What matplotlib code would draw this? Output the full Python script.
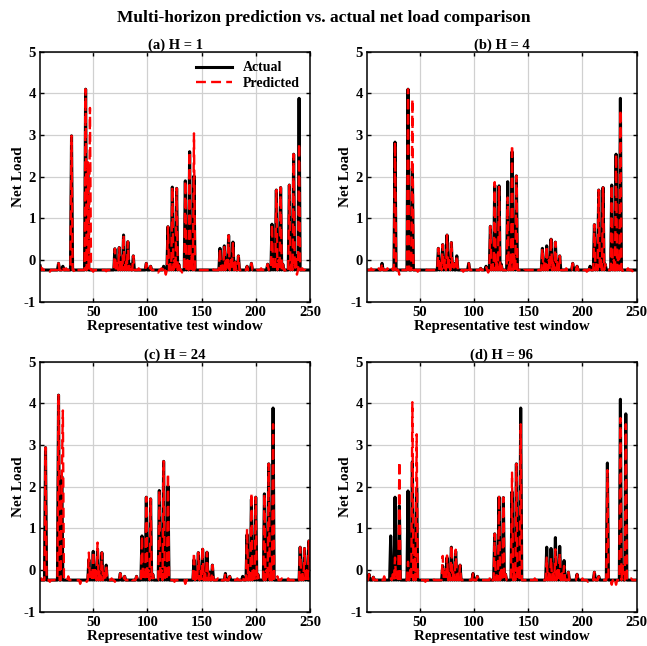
import numpy as np
import matplotlib.pyplot as plt

plt.rcParams['font.family'] = ['Liberation Serif', 'DejaVu Serif']
plt.rcParams['font.weight'] = 'bold'
plt.rcParams['axes.unicode_minus'] = False

# x axis: representative test window, 250 steps
t = np.arange(1, 251)
base = -0.24

titles = ['(a) H = 1', '(b) H = 4', '(c) H = 24', '(d) H = 96']

# ---- (a) H = 1 : actual (points off the baseline)
a_act_x = [1, 18, 22, 30, 43, 45,
           70, 72, 74, 76, 78, 80, 82, 84, 87, 99, 103,
           115, 119, 121, 123, 125, 127, 129, 135, 137, 139, 141, 143,
           167, 169, 171, 173, 175, 177, 179, 181, 184, 192, 196,
           211, 215, 217, 219, 221, 223, 225, 231, 233, 235, 237, 240]
a_act_y = [-0.14, -0.08, -0.15, 2.98, 4.1, 2.3,
           0.27, -0.08, 0.3, -0.05, 0.6, 0.0, 0.44, -0.1, 0.1, -0.08, -0.15,
           -0.15, 0.8, -0.05, 1.75, 0.0, 1.72, -0.1, 1.9, 0.0, 2.6, 0.1, 2.02,
           0.28, -0.05, 0.34, 0.0, 0.59, 0.0, 0.43, -0.05, 0.1, -0.15, -0.08,
           -0.1, 0.86, -0.05, 1.68, 0.0, 1.74, -0.1, 1.8, 0.0, 2.54, 0.1, 3.88]
# predicted: where it differs from actual
a_pred_x = [3, 10, 25, 33, 45, 47, 50, 55, 62, 92, 110, 113, 117, 132, 143,
            146, 160, 188, 200, 205, 228, 238, 240, 243, 247]
a_pred_y = [-0.2, -0.28, -0.2, -0.3, 2.35, 3.65, -0.28, -0.22, -0.27, -0.2, -0.3, -0.2, -0.35, -0.3, 3.04,
            -0.28, -0.2, -0.2, -0.28, -0.2, -0.3, -0.35, 2.8, -0.2, -0.27]

# ---- (b) H = 4
b_act_x = [15, 27, 39, 43,
           67, 69, 71, 73, 75, 77, 79, 81, 84, 95, 106, 111,
           115, 117, 119, 121, 123, 125, 131, 133, 135, 137, 139,
           163, 165, 167, 169, 171, 173, 175, 177, 179, 191, 195,
           207, 211, 213, 215, 217, 219, 221, 227, 229, 231, 233, 235]
b_act_y = [-0.08, 2.83, 4.1, 2.2,
           0.28, -0.08, 0.37, 0.0, 0.6, 0.0, 0.42, -0.08, 0.1, -0.08, -0.2, -0.15,
           0.81, -0.05, 1.8, 0.0, 1.78, -0.1, 1.88, 0.0, 2.6, 0.1, 2.02,
           0.28, -0.05, 0.34, 0.0, 0.5, 0.0, 0.43, -0.05, 0.1, -0.08, -0.15,
           -0.15, 0.85, -0.05, 1.68, 0.0, 1.74, -0.1, 1.8, 0.0, 2.54, 0.1, 3.88]
b_pred_x = [5, 9, 12, 20, 24, 31, 43, 48, 55, 87, 90, 100, 113, 119, 131, 135,
            145, 158, 171, 185, 188, 200, 204, 230, 235, 238, 242, 246]
b_pred_y = [-0.2, -0.28, -0.2, -0.2, -0.18, -0.35, 3.86, -0.28, -0.22, -0.2, -0.28, -0.2, -0.3, 1.87, 1.5, 2.76,
            -0.28, -0.2, 0.55, -0.2, -0.28, -0.2, -0.28, -0.3, 3.6, -0.3, -0.2, -0.27]

# ---- (c) H = 24
c_act_x = [6, 18, 21,
           46, 48, 50, 52, 54, 56, 58, 60, 62, 75, 79,
           90, 95, 97, 99, 101, 103, 105, 111, 113, 115, 117, 119,
           143, 145, 147, 149, 151, 153, 155, 157, 160, 172, 176,
           188, 192, 194, 196, 198, 200, 202, 208, 210, 212, 214, 216,
           241, 243, 245, 247, 249]
c_act_y = [2.94, 4.2, 2.25,
           0.25, -0.05, 0.45, 0.0, 0.5, 0.0, 0.42, -0.08, 0.12, -0.08, -0.15,
           -0.15, 0.82, -0.05, 1.75, 0.0, 1.71, -0.1, 1.91, 0.0, 2.61, 0.1, 2.02,
           0.25, -0.05, 0.42, 0.0, 0.5, 0.0, 0.43, -0.05, 0.12, -0.08, -0.15,
           -0.15, 0.85, -0.05, 1.7, 0.0, 1.75, -0.1, 1.83, 0.0, 2.55, 0.1, 3.89,
           0.55, -0.05, 0.52, 0.0, 0.7]
c_pred_x = [2, 10, 22, 27, 38, 44, 46, 54, 67, 70, 85, 119, 125, 135, 143, 151,
            165, 168, 183, 192, 196, 216, 220, 224, 230, 236]
c_pred_y = [-0.2, -0.28, 3.83, -0.15, -0.33, -0.28, 0.42, 0.66, -0.2, -0.28, -0.2, 2.32, -0.28, -0.33, 0.42, 0.57,
            -0.2, -0.28, -0.2, 0.99, 1.85, 3.5, -0.15, -0.2, -0.2, -0.28]

# ---- (d) H = 96
d_act_x = [3, 7, 23, 25, 27, 29, 31, 39, 41, 43, 45, 47,
           71, 73, 75, 77, 79, 81, 83, 85, 87, 99, 103,
           119, 121, 123, 125, 127, 129, 135, 137, 139, 141, 143,
           167, 169, 171, 173, 175, 177, 179, 181, 183, 187, 195, 211, 215,
           223, 235, 237, 240]
d_act_y = [-0.1, -0.17, 0.82, -0.1, 1.75, -0.05, 1.54, 1.9, 0.0, 2.6, 0.1, 1.97,
           0.1, -0.05, 0.3, 0.0, 0.55, 0.0, 0.45, -0.05, 0.12, -0.08, -0.15,
           0.87, -0.05, 1.75, 0.0, 1.74, -0.1, 1.88, 0.0, 2.55, 0.1, 3.89,
           0.55, -0.05, 0.52, 0.0, 0.78, 0.0, 0.57, -0.05, 0.23, -0.05, -0.1, -0.05, -0.15,
           2.57, 4.1, 0.1, 3.75]
d_pred_x = [13, 17, 23, 27, 31, 39, 43, 45, 47, 55, 62, 71, 75, 79, 83, 115, 123, 135, 143,
            150, 156, 167, 171, 175, 179, 183, 200, 205, 223, 227, 229, 231, 235, 240, 245]
d_pred_y = [-0.2, -0.15, -0.2, 0.3, 2.6, 0.2, 4.03, 0.5, 3.26, -0.28, -0.2, 0.34, 0.35, 0.6, 0.49, -0.15, 1.8, 2.34, 3.5,
            -0.28, -0.2, 0.3, 0.3, 0.5, 0.4, 0.1, -0.2, -0.28, 2.4, -0.35, -0.3, -0.35, 3.65, 3.5, -0.2]

act_pts = [(a_act_x, a_act_y), (b_act_x, b_act_y), (c_act_x, c_act_y), (d_act_x, d_act_y)]
pred_pts = [(a_pred_x, a_pred_y), (b_pred_x, b_pred_y), (c_pred_x, c_pred_y), (d_pred_x, d_pred_y)]


def build(xs, ys, s=None):
    if s is None:
        s = np.full(len(t), base)
    else:
        s = s.copy()
    for x, y in zip(xs, ys):
        s[x - 1] = y
    return s


fig = plt.figure(figsize=(6.47, 6.46), dpi=100)
fig.suptitle('Multi-horizon prediction vs. actual net load comparison',
             fontsize=12.5, fontweight='bold', y=0.985)

lefts = [0.062, 0.567, 0.062, 0.567]
bottoms = [0.533, 0.533, 0.053, 0.053]
w, h = 0.417, 0.387

for k in range(4):
    ax = fig.add_axes([lefts[k], bottoms[k], w, h])
    actual = build(*act_pts[k])
    pred = build(*pred_pts[k], s=actual)
    ax.plot(t, actual, color='black', lw=2.2, label='Actual')
    ax.plot(t, pred, color='red', lw=1.7, ls='--', dashes=(4.2, 2.2), label='Predicted')
    ax.set_xlim(1, 250)
    ax.set_ylim(-1, 5)
    ax.set_xticks([50, 100, 150, 200, 250])
    ax.set_yticks([-1, 0, 1, 2, 3, 4, 5])
    ax.grid(True, color='#d0d0d0', lw=0.9)
    ax.set_axisbelow(True)
    ax.tick_params(direction='in', top=True, right=True, labelsize=10.5, length=3, width=1, pad=3)
    for lab in ax.get_xticklabels() + ax.get_yticklabels():
        lab.set_fontweight('bold')
    for sp in ax.spines.values():
        sp.set_linewidth(1.1)
    ax.set_title(titles[k], fontsize=10.5, fontweight='bold', pad=2)
    ax.set_xlabel('Representative test window', fontsize=10.8, fontweight='bold', labelpad=1)
    ax.set_ylabel('Net Load', fontsize=11, fontweight='bold', labelpad=-1)
    if k == 0:
        ax.legend(loc='upper right', frameon=False, handlelength=2.6,
                  borderaxespad=0.3, labelspacing=0.2, prop={'weight': 'bold', 'size': 10})

fig.savefig('out.png', dpi=100)
